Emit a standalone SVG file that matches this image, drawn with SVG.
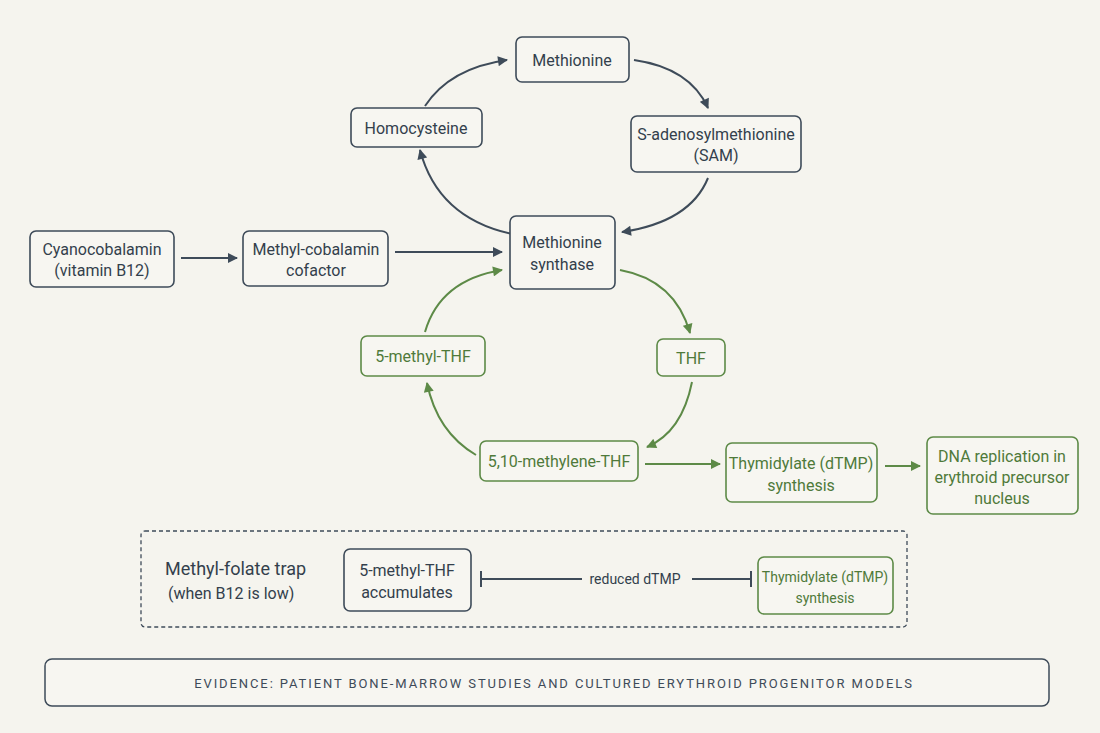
<svg xmlns="http://www.w3.org/2000/svg" width="1100" height="733" viewBox="0 0 1100 733">
<defs>
<style>
text{font-family:Roboto,"Liberation Sans",sans-serif;font-size:16px;text-anchor:middle;dominant-baseline:central}
.nd rect{fill:#f7f6f1;stroke:#3e4b59;stroke-width:1.6}
.nd text{fill:#333f4c}
.gn rect{fill:#f7f6f1;stroke:#5d8a47;stroke-width:1.6}
.gn text{fill:#4f7a3a}
.c{fill:none;stroke:#3e4b59;stroke-width:2}
.g{fill:none;stroke:#5d8a47;stroke-width:2}
</style>
<marker id="ad" viewBox="0 0 10 10" refX="9" refY="5" markerWidth="11" markerHeight="10" orient="auto" markerUnits="userSpaceOnUse"><path d="M0,0 L10,5 L0,10 z" fill="#3e4b59"/></marker>
<marker id="ag" viewBox="0 0 10 10" refX="9" refY="5" markerWidth="11" markerHeight="10" orient="auto" markerUnits="userSpaceOnUse"><path d="M0,0 L10,5 L0,10 z" fill="#5d8a47"/></marker>
</defs>
<rect width="1100" height="733" fill="#f5f4ee"/>

<g id="connectors">
<path class="c" marker-end="url(#ad)" d="M425,106 Q450,68 507,60"/>
<path class="c" marker-end="url(#ad)" d="M634,60 Q690,68 708,108"/>
<path class="c" marker-end="url(#ad)" d="M708,178 Q690,222 622,232"/>
<path class="c" marker-end="url(#ad)" d="M512,234 Q438,218 420,150"/>
<path class="c" marker-end="url(#ad)" d="M181,258 L237,258"/>
<path class="c" marker-end="url(#ad)" d="M395,252 L502,252"/>
<path class="g" marker-end="url(#ag)" d="M425,332 Q440,280 502,270"/>
<path class="g" marker-end="url(#ag)" d="M620,270 Q675,280 690,333"/>
<path class="g" marker-end="url(#ag)" d="M692,382 Q682,432 647,447"/>
<path class="g" marker-end="url(#ag)" d="M476,455 Q437,432 427,383"/>
<path class="g" marker-end="url(#ag)" d="M645,464 L720,464"/>
<path class="g" marker-end="url(#ag)" d="M885,466 L920,466"/>
<path class="c" d="M481,571 V587 M481,579 H582 M692,579 H751 M751,571 V587"/>
</g>

<g id="methionine" class="nd"><rect x="516" y="37" width="113" height="45" rx="6"/><text x="572" y="60">Methionine</text></g>
<g id="homocysteine" class="nd"><rect x="351" y="108" width="131" height="39" rx="6"/><text x="416" y="128">Homocysteine</text></g>
<g id="sam" class="nd"><rect x="631" y="116" width="170" height="56" rx="6"/><text x="716" y="134">S-adenosylmethionine</text><text x="716" y="155">(SAM)</text></g>
<g id="methionine-synthase" class="nd"><rect x="510" y="216" width="105" height="73" rx="6"/><text x="562" y="242">Methionine</text><text x="562" y="264">synthase</text></g>
<g id="cyanocobalamin" class="nd"><rect x="30" y="231" width="144" height="56" rx="6"/><text x="102" y="249">Cyanocobalamin</text><text x="102" y="270">(vitamin B12)</text></g>
<g id="methylcobalamin" class="nd"><rect x="243" y="231" width="145" height="55" rx="6"/><text x="316" y="249">Methyl-cobalamin</text><text x="316" y="270">cofactor</text></g>
<g id="methyl-thf" class="gn"><rect x="361" y="336" width="124" height="40" rx="6"/><text x="423" y="356">5-methyl-THF</text></g>
<g id="thf" class="gn"><rect x="657" y="339" width="68" height="37" rx="6"/><text x="691" y="358">THF</text></g>
<g id="methylene-thf" class="gn"><rect x="480" y="441" width="158" height="40" rx="6"/><text x="559" y="461">5,10-methylene-THF</text></g>
<g id="thymidylate" class="gn"><rect x="726" y="443" width="151" height="59" rx="6"/><text x="801" y="463">Thymidylate (dTMP)</text><text x="801" y="485">synthesis</text></g>
<g id="dna" class="gn"><rect x="927" y="437" width="151" height="77" rx="6"/><text x="1002" y="456">DNA replication in</text><text x="1002" y="477">erythroid precursor</text><text x="1002" y="498">nucleus</text></g>

<g id="trap-box">
<rect x="141" y="531" width="766" height="96" rx="4" fill="none" stroke="#3e4b59" stroke-width="1.3" stroke-dasharray="4,3"/>
<text x="165" y="568" style="text-anchor:start;font-size:18px" fill="#333f4c">Methyl-folate trap</text>
<text x="168" y="593" style="text-anchor:start" fill="#333f4c">(when B12 is low)</text>
<text x="635" y="579" style="font-size:14px" fill="#333f4c">reduced dTMP</text>
</g>
<g id="accumulates" class="nd"><rect x="344" y="549" width="127" height="62" rx="6"/><text x="407" y="570">5-methyl-THF</text><text x="407" y="592">accumulates</text></g>
<g id="thymidylate-low" class="gn"><rect x="758" y="557" width="135" height="57" rx="6"/><text x="825" y="577" style="font-size:14px">Thymidylate (dTMP)</text><text x="825" y="598" style="font-size:14px">synthesis</text></g>

<g id="evidence">
<rect x="45" y="659" width="1004" height="47" rx="7" fill="#f7f6f1" stroke="#3e4b59" stroke-width="1.5"/>
<text x="554" y="683" style="font-size:13px;letter-spacing:1.9px" fill="#3e4b59">EVIDENCE: PATIENT BONE-MARROW STUDIES AND CULTURED ERYTHROID PROGENITOR MODELS</text>
</g>
</svg>
